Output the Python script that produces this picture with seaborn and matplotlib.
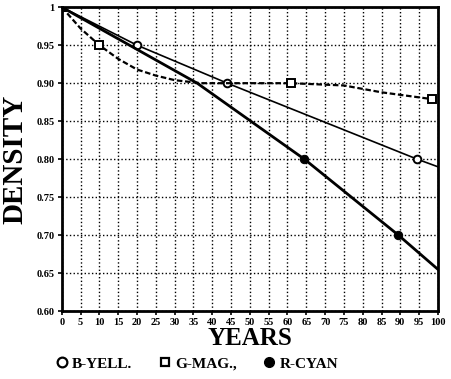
import matplotlib
matplotlib.use('Agg')
import matplotlib.pyplot as plt
from matplotlib.lines import Line2D
import pandas as pd
import seaborn as sns

# series
yell_x = [0, 20, 44, 94.5, 100]
yell_y = [1.0, 0.95, 0.90, 0.80, 0.79]
yell_marks = [1, 2, 3]

mag_x = [0, 5, 10, 15, 20, 25, 30, 37, 50, 61, 75, 85, 98.5]
mag_y = [1.0, 0.972, 0.95, 0.932, 0.918, 0.91, 0.904, 0.90, 0.90, 0.90, 0.897, 0.888, 0.879]
mag_marks = [0, 2, 9, 12]

cyan_x = [0, 36, 64.5, 89.5, 100]
cyan_y = [1.0, 0.90, 0.80, 0.70, 0.655]
cyan_marks = [2, 3]

x_ticks = list(range(0, 101, 5))
y_ticks = [0.60, 0.65, 0.70, 0.75, 0.80, 0.85, 0.90, 0.95, 1.0]
y_labels = ['0.60', '0.65', '0.70', '0.75', '0.80', '0.85', '0.90', '0.95', '1']

sns.set_style('ticks')
plt.rcParams['font.family'] = ['Liberation Serif', 'DejaVu Serif']
plt.rcParams['font.weight'] = 'bold'
for k in ['text.color', 'axes.labelcolor', 'xtick.color', 'ytick.color']:
    plt.rcParams[k] = 'black'

fig = plt.figure(figsize=(4.51, 3.79), dpi=100)
ax = fig.add_axes([0.137, 0.179, 0.834, 0.802])

yell = pd.DataFrame({'x': yell_x, 'y': yell_y})
mag = pd.DataFrame({'x': mag_x, 'y': mag_y})
cyan = pd.DataFrame({'x': cyan_x, 'y': cyan_y})

sns.lineplot(data=yell, x='x', y='y', ax=ax, color='black', lw=1.2,
             marker='o', markersize=5.5, markerfacecolor='white', markeredgecolor='black',
             markeredgewidth=1.4, markevery=yell_marks, sort=False)
sns.lineplot(data=mag, x='x', y='y', ax=ax, color='black', lw=1.6, linestyle=(0, (2.5, 1.2)),
             marker='s', markersize=5.5, markerfacecolor='white', markeredgecolor='black',
             markeredgewidth=1.4, markevery=mag_marks, sort=False)
sns.lineplot(data=cyan, x='x', y='y', ax=ax, color='black', lw=2.0,
             marker='o', markersize=6, markerfacecolor='black', markeredgecolor='black',
             markevery=cyan_marks, sort=False)

ax.set_xlim(0, 100)
ax.set_ylim(0.6, 1.0)
ax.set_xticks(x_ticks)
ax.set_yticks(y_ticks)
ax.set_yticklabels(y_labels)
ax.tick_params(labelsize=7.5, length=3, width=1.2, color='black', pad=2)
for lab in ax.get_xticklabels() + ax.get_yticklabels():
    lab.set_fontweight('bold')
ax.grid(True, linestyle=':', color='black', lw=1.0)
for s in ax.spines.values():
    s.set_visible(True)
    s.set_linewidth(2.0)
    s.set_color('black')

ax.set_xlabel('YEARS', fontsize=18, fontweight='bold', labelpad=0)
ax.set_ylabel('DENSITY', fontsize=21, fontweight='bold', labelpad=6)

handles = [
    Line2D([], [], linestyle='none', marker='o', markersize=7, markerfacecolor='white',
           markeredgecolor='black', markeredgewidth=1.6),
    Line2D([], [], linestyle='none', marker='s', markersize=6, markerfacecolor='white',
           markeredgecolor='black', markeredgewidth=1.6),
    Line2D([], [], linestyle='none', marker='o', markersize=7, markerfacecolor='black',
           markeredgecolor='black'),
]
fig.legend(handles, ['B-YELL.', 'G-MAG.,', 'R-CYAN'], loc='center', ncol=3,
           bbox_to_anchor=(0.435, 0.04), frameon=False, handlelength=1.0,
           handletextpad=0.2, columnspacing=1.6, prop={'weight': 'bold', 'size': 11})

fig.savefig('out.png', dpi=100)
